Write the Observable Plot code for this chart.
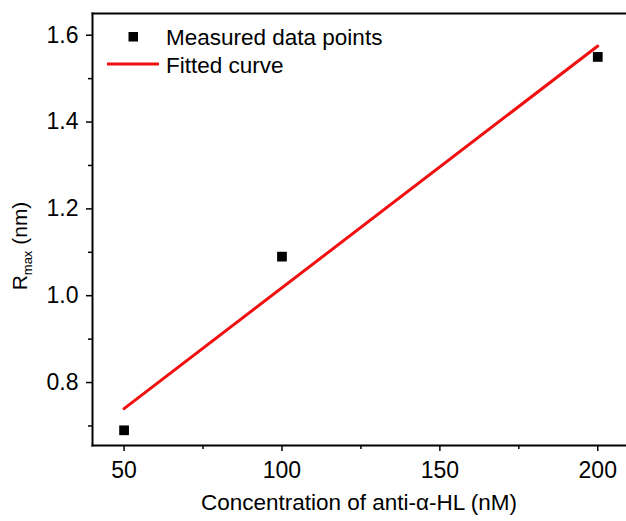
<!DOCTYPE html>
<html><head><meta charset="utf-8">
<script src="https://cdn.jsdelivr.net/npm/d3@7"></script>
<script src="https://cdn.jsdelivr.net/npm/@observablehq/plot@0.6"></script>
<style>body{margin:0;background:#fff} svg{display:block}</style>
</head><body><div id="chart"></div>
<script>
const concentration = [50, 100, 200];
const rmax = [0.69, 1.09, 1.55];
const fitX = [50, 200];
const fitY = [0.74, 1.575];
const xMajorTicks = [50, 100, 150, 200];
const xMinorTicks = [75, 125, 175];
const yMajorTicks = [0.8, 1.0, 1.2, 1.4, 1.6];
const yMinorTicks = [0.7, 0.9, 1.1, 1.3, 1.5];
const xTitle = "Concentration of anti-α-HL (nM)";
const legendLabels = ["Measured data points", "Fitted curve"];

const points = concentration.map((x, i) => ({x, y: rmax[i]}));
const fit = fitX.map((x, i) => ({x, y: fitY[i]}));

const font = "Arial, 'Liberation Sans', Helvetica, sans-serif";
const W = 626, H = 521, mL = 92, mT = 13, mB = 76, mR = 0;
const red = "#f01010";

const plot = Plot.plot({
  width: W, height: H,
  marginLeft: mL, marginTop: mT, marginBottom: mB, marginRight: mR,
  style: {fontFamily: font, fontSize: "22px", background: "#fff", color: "#000", overflow: "visible"},
  x: {domain: [40, 209.1]},
  y: {domain: [0.655, 1.65]},
  marks: [
    Plot.axisX({ticks: xMajorTicks, tickSize: 6, tickPadding: 10, tickFormat: d => String(d), label: null, fontSize: 23, strokeWidth: 1.5}),
    Plot.axisX({ticks: xMinorTicks, tickSize: 4, text: null, label: null, strokeWidth: 1.5}),
    Plot.axisY({ticks: yMajorTicks, tickSize: 6, tickPadding: 8, tickFormat: d3.format(".1f"), label: null, fontSize: 23, strokeWidth: 1.5}),
    Plot.axisY({ticks: yMinorTicks, tickSize: 4, text: null, label: null, strokeWidth: 1.5}),
    Plot.frame({anchor: "top", strokeWidth: 2}),
    Plot.frame({anchor: "left", strokeWidth: 2}),
    Plot.frame({anchor: "bottom", strokeWidth: 2}),
    Plot.line(fit, {x: "x", y: "y", stroke: red, strokeWidth: 3}),
    Plot.dot(points, {x: "x", y: "y", symbol: "square", r: 5.5, fill: "#000", stroke: "none"})
  ]
});

const svg = d3.select(plot);
// Y title with subscript
const yt = svg.append("text")
  .attr("transform", "translate(27,246) rotate(-90)")
  .attr("text-anchor", "middle")
  .attr("font-family", font)
  .attr("font-size", 21)
  .attr("fill", "#000");
yt.append("tspan").text("R");
yt.append("tspan").attr("font-size", 13).attr("dy", 5).text("max");
yt.append("tspan").attr("dy", -5).text(" (nm)");

// X title
svg.append("text")
  .attr("x", mL + (W - mL - mR) / 2)
  .attr("y", 510)
  .attr("text-anchor", "middle")
  .attr("font-family", font)
  .attr("font-size", 22.5)
  .attr("fill", "#000")
  .text(xTitle);

// Legend
const lg = svg.append("g").attr("font-family", font).attr("font-size", 22.5).attr("fill", "#000").attr("text-anchor", "start");
lg.append("rect").attr("x", 128.5).attr("y", 32).attr("width", 9.5).attr("height", 9.5).attr("fill", "#000");
lg.append("text").attr("x", 166).attr("y", 45).text(legendLabels[0]);
lg.append("line").attr("x1", 107).attr("x2", 159).attr("y1", 64).attr("y2", 64).attr("stroke", red).attr("stroke-width", 3);
lg.append("text").attr("x", 166).attr("y", 73).text(legendLabels[1]);

document.getElementById("chart").appendChild(plot);
</script>
</body></html>
